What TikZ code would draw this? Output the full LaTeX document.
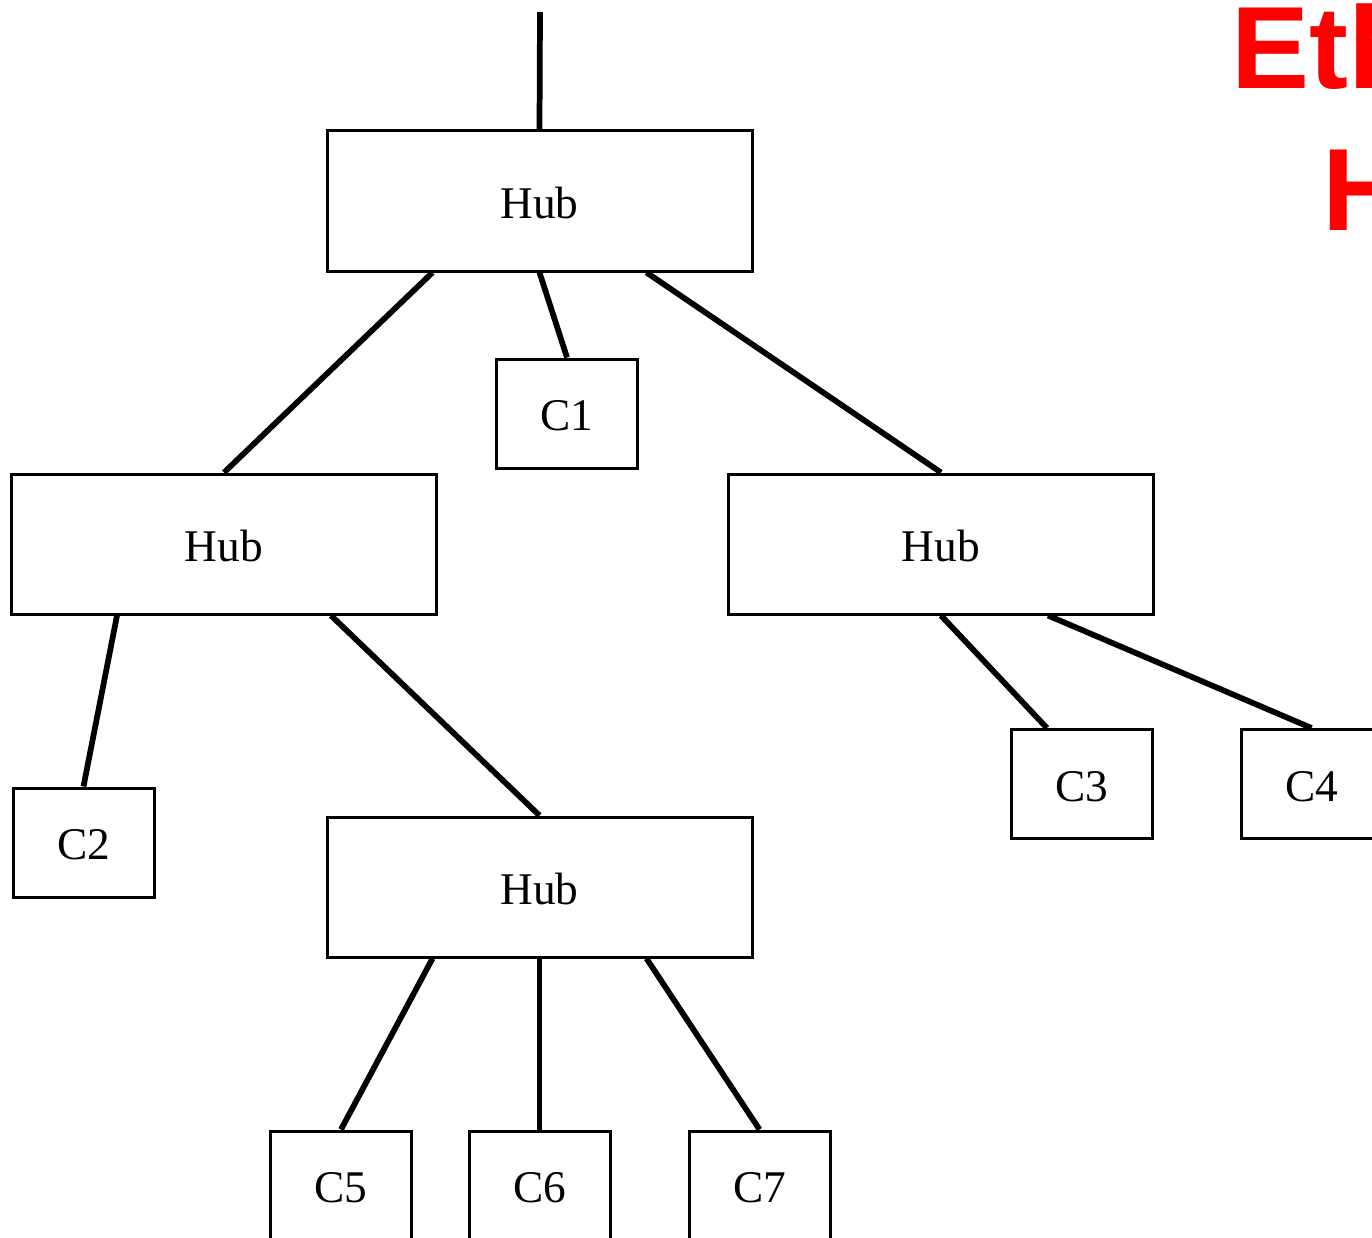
\documentclass[tikz,border=0pt]{standalone}
\usepackage{fontspec}
\setmainfont{Liberation Serif}
\newfontfamily\headfont{Liberation Sans}
\usetikzlibrary{calc}
\begin{document}
\begin{tikzpicture}[x=0.75pt,y=-0.75pt,
  box/.style={draw, line width=2.25pt, inner sep=0pt,
    font=\fontsize{34}{40}\selectfont, text height=26pt, text depth=0pt},
  hub/.style={box, minimum width=318.75pt, minimum height=105pt},
  pc/.style={box, minimum width=105.75pt, minimum height=81.75pt},
  link/.style={line width=4.3pt},
  title/.style={anchor=base, text=red,
    font=\headfont\bfseries\fontsize{87.75}{105}\selectfont}]
\useasboundingbox (0,0) rectangle (1372,1238);
\clip (0,0) rectangle (1372,1238);

% hubs
\node[hub] (h0) at (539.5,201) {Hub};
\node[hub] (h1) at (224,544) {Hub};
\node[hub] (h2) at (941,544) {Hub};
\node[hub] (h3) at (539.5,887) {Hub};

% computers
\node[pc] (c1) at (567,413.5) {C1};
\node[pc] (c2) at (83.5,842.5) {C2};
\node[pc] (c3) at (1081.5,784) {C3};
\node[pc] (c4) at (1311.5,784) {C4};
\node[pc] (c5) at (341,1185.5) {C5};
\node[pc] (c6) at (539.5,1185.5) {C6};
\node[pc] (c7) at (759.5,1185.5) {C7};

% uplink and cabling
\coordinate (feed) at (540,12);
\draw[link] (feed) -- (h0.north);
\draw[link] ($(h0.south west)!0.25!(h0.south east)$) -- (h1.north);
\draw[link] (h0.south) -- (c1.north);
\draw[link] ($(h0.south west)!0.75!(h0.south east)$) -- (h2.north);
\draw[link] ($(h1.south west)!0.25!(h1.south east)$) -- (c2.north);
\draw[link] ($(h1.south west)!0.75!(h1.south east)$) -- (h3.north);
\draw[link] (h2.south) -- ($(c3.north west)!0.26!(c3.north east)$);
\draw[link] ($(h2.south west)!0.75!(h2.south east)$) -- (c4.north);
\draw[link] ($(h3.south west)!0.25!(h3.south east)$) -- (c5.north);
\draw[link] (h3.south) -- (c6.north);
\draw[link] ($(h3.south west)!0.75!(h3.south east)$) -- (c7.north);

% heading
\node[title] (eth) at (1469,89) {Ethernet};
\node[title] (hubs) at (1469,230) {Hubs};
\end{tikzpicture}
\end{document}
